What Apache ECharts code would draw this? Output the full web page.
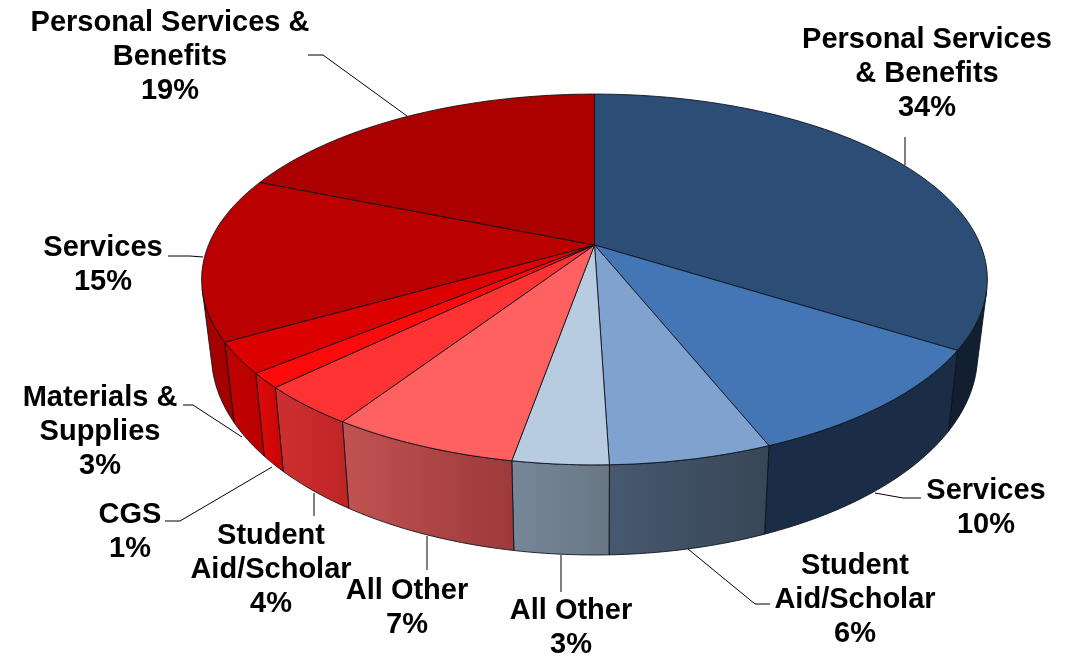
<!DOCTYPE html>
<html>
<head>
<meta charset="utf-8">
<style>html,body{margin:0;padding:0;background:#fff}#chart{width:1078px;height:657px}</style>
<script src="https://cdn.jsdelivr.net/npm/echarts@6/dist/echarts.min.js"></script>
</head>
<body>
<div id="chart"></div>
<script>
// ---- data ----
const categories = ['Personal Services\n& Benefits','Services','Student\nAid/Scholar','All Other','All Other','Student\nAid/Scholar','CGS','Materials &\nSupplies','Services','Personal Services &\nBenefits'];
const shareValues = [33.9,10.0,5.6,3.3,6.5,3.5,1.3,2.7,14.3,18.9];
const percentLabels = ['34%','10%','6%','3%','7%','4%','1%','3%','15%','19%'];

// ---- styling ----
const topColors = ['#2C4D76','#4475B4','#7FA2CE','#B7CBE1','#FF6060','#FF3333','#FF0A0A','#DD0000','#BB0000','#AA0000'];
const wallColors = [['#111F30','#111F30'],['#1B2D46','#1B2D46'],['#47596F','#384657'],['#76879A','#697784'],['#C25252','#9C3A3A'],['#CE3030','#BF2424'],['#E00A0A','#C90505'],['#BE0000','#BB0000'],['#A40000','#A40000'],['#990000','#990000']];

// ---- label layout (pixels on the page) ----
const labelCentres = [[927,23],[986,474],[855,549.5],[571,594],[407,574],[271,519.5],[130,498],[100,381],[103,231],[170,6]];
const leaderLines = [
  [[905,137],[905,165]],
  [[875,493],[903,498],[921,498]],
  [[688,549],[755,604],[770,604]],
  [[561,555],[561,592]],
  [[427,536],[427,570]],
  [[314,493],[314,516]],
  [[272,467],[180,521],[165,521]],
  [[242,437],[193,405],[183,405]],
  [[203,257],[190,256],[168,256]],
  [[407,116],[323,55],[308,55]]
];

// ---- perspective of the pie disc ----
const CX = 594.5, CY = 245, R = 386, PA = 179, PB = 0.186;
const WALL_SX = 0.975, WALL_SY = 1.08, WALL_DY = 72.5;
const STEP = Math.PI / 180;
function project(theta){ // theta clockwise from the top, radians
  const u = Math.sin(theta), v = -Math.cos(theta), d = 1 - PB * v;
  return [R * u / d, PA * v / d];
}
function topPt(theta){ const p = project(theta); return [CX + p[0], CY + p[1]]; }
function lowPt(theta){ const p = project(theta); return [CX + WALL_SX * p[0], CY + WALL_DY + WALL_SY * p[1]]; }
function sampleAngles(a0, a1){
  const out = [], n = Math.max(2, Math.ceil((a1 - a0) / STEP));
  for (let i = 0; i <= n; i++) out.push(a0 + (a1 - a0) * i / n);
  return out;
}
function frontFacing(a, b){ // does the wall strip between angles a and b face the viewer?
  const t0 = topPt(a), t1 = topPt(b), l0 = lowPt(a);
  return (t1[0] - t0[0]) * (l0[1] - t0[1]) - (t1[1] - t0[1]) * (l0[0] - t0[0]) < 0;
}
const total = shareValues.reduce((a, b) => a + b, 0);
const EDGE = 'rgba(10,15,25,0.85)';

const chart = echarts.init(document.getElementById('chart'), null, {renderer: 'canvas'});
chart.setOption({
  animation: false,
  backgroundColor: '#ffffff',
  series: [{
    type: 'custom',
    coordinateSystem: 'none',
    silent: true,
    data: shareValues.map((v, i) => [i, v]),
    renderItem: function (params, api) {
      const i = api.value(0);
      let before = 0;
      for (let k = 0; k < i; k++) before += shareValues[k];
      const a0 = before / total * 2 * Math.PI, a1 = (before + shareValues[i]) / total * 2 * Math.PI;
      const angles = sampleAngles(a0, a1);
      const wc = wallColors[i];
      const children = [];

      // visible part of the wall: the angles whose strip faces the viewer
      const visible = [];
      for (let s = 0; s < angles.length - 1; s++) {
        if (frontFacing(angles[s], angles[s + 1])) {
          if (!visible.length) visible.push(angles[s]);
          visible.push(angles[s + 1]);
        }
      }
      if (visible.length) {
        const topRun = visible.map(topPt), lowRun = visible.map(lowPt);
        children.push({type: 'polygon', z2: 1, shape: {points: topRun.concat(lowRun.slice().reverse())},
          style: {fill: {type: 'linear', x: 0, y: 0, x2: 1, y2: 0, colorStops: [{offset: 0, color: wc[0]}, {offset: 1, color: wc[1]}]},
                  stroke: EDGE, lineWidth: 1, lineJoin: 'round'}});
      }

      children.push(
        {type: 'polygon', z2: 2, shape: {points: [[CX, CY]].concat(angles.map(topPt))},
         style: {fill: topColors[i], stroke: EDGE, lineWidth: 1, lineJoin: 'round'}},
        {type: 'polyline', z2: 3, shape: {points: leaderLines[i]},
         style: {fill: null, stroke: '#000', lineWidth: 1}},
        {type: 'text', z2: 4, x: labelCentres[i][0], y: labelCentres[i][1],
         style: {text: categories[i] + '\n' + percentLabels[i], fill: '#000', align: 'center', verticalAlign: 'top',
                 fontFamily: '"Liberation Sans", Arial, sans-serif', fontWeight: 'bold', fontSize: 29, lineHeight: 33.8}}
      );
      return {type: 'group', children: children};
    }
  }]
});
</script>
</body>
</html>
